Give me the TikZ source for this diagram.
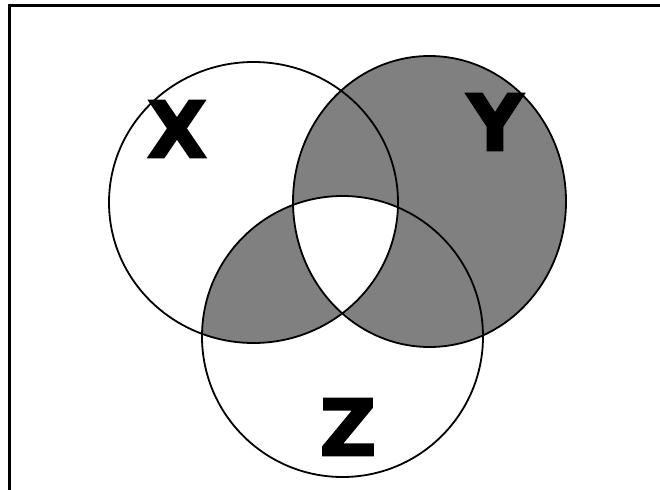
\documentclass[tikz,border=0pt]{standalone}
\usepackage{fontspec}
\newfontfamily\lblfont{DejaVu Sans}[FakeBold=2.5]
\definecolor{vgray}{HTML}{808080}
\tikzset{
  setline/.style={draw=black, line width=1.8pt},
  framelinestyle/.style={line width=3pt, line cap=rect},
  setlabel/.style={font=\lblfont\bfseries\fontsize{78}{78}\selectfont, inner sep=0pt, anchor=center}
}
\begin{document}
\begin{tikzpicture}[x=1pt,y=-1pt]
\useasboundingbox (0,0) rectangle (660,489);
\fill[white] (0,0) rectangle (660,489);
% coordinates of set centres
\coordinate (cX) at (253.5,202.5);
\coordinate (cY) at (429.5,201.5);
\coordinate (cZ) at (342.5,336.5);
% frame
\coordinate (fTL) at (9.5,5.5);
\coordinate (fTR) at (662,5.5);
\coordinate (fBL) at (9.5,492);
\draw[framelinestyle] (fBL) -- (fTL) -- (fTR);
% shading: Y xor (X and Z)
\fill[vgray] (cY) ellipse [x radius=136.5pt, y radius=145.5pt];
\begin{scope}
  \clip (cX) ellipse [x radius=144.5pt, y radius=140.5pt];
  \clip (cZ) ellipse [x radius=140.5pt, y radius=140.5pt];
  \fill[vgray] (0,0) rectangle (660,489);
  \fill[white] (cY) ellipse [x radius=136.5pt, y radius=145.5pt];
\end{scope}
% outlines
\draw[setline] (cX) ellipse [x radius=144.5pt, y radius=140.5pt];
\draw[setline] (cY) ellipse [x radius=136.5pt, y radius=145.5pt];
\draw[setline] (cZ) ellipse [x radius=140.5pt, y radius=140.5pt];
% labels
\node[setlabel] (labX) at (177,129) {X};
\node[setlabel] (labY) at (495,122) {Y};
\node[setlabel] (labZ) at (348,427) {Z};
\end{tikzpicture}
\end{document}
